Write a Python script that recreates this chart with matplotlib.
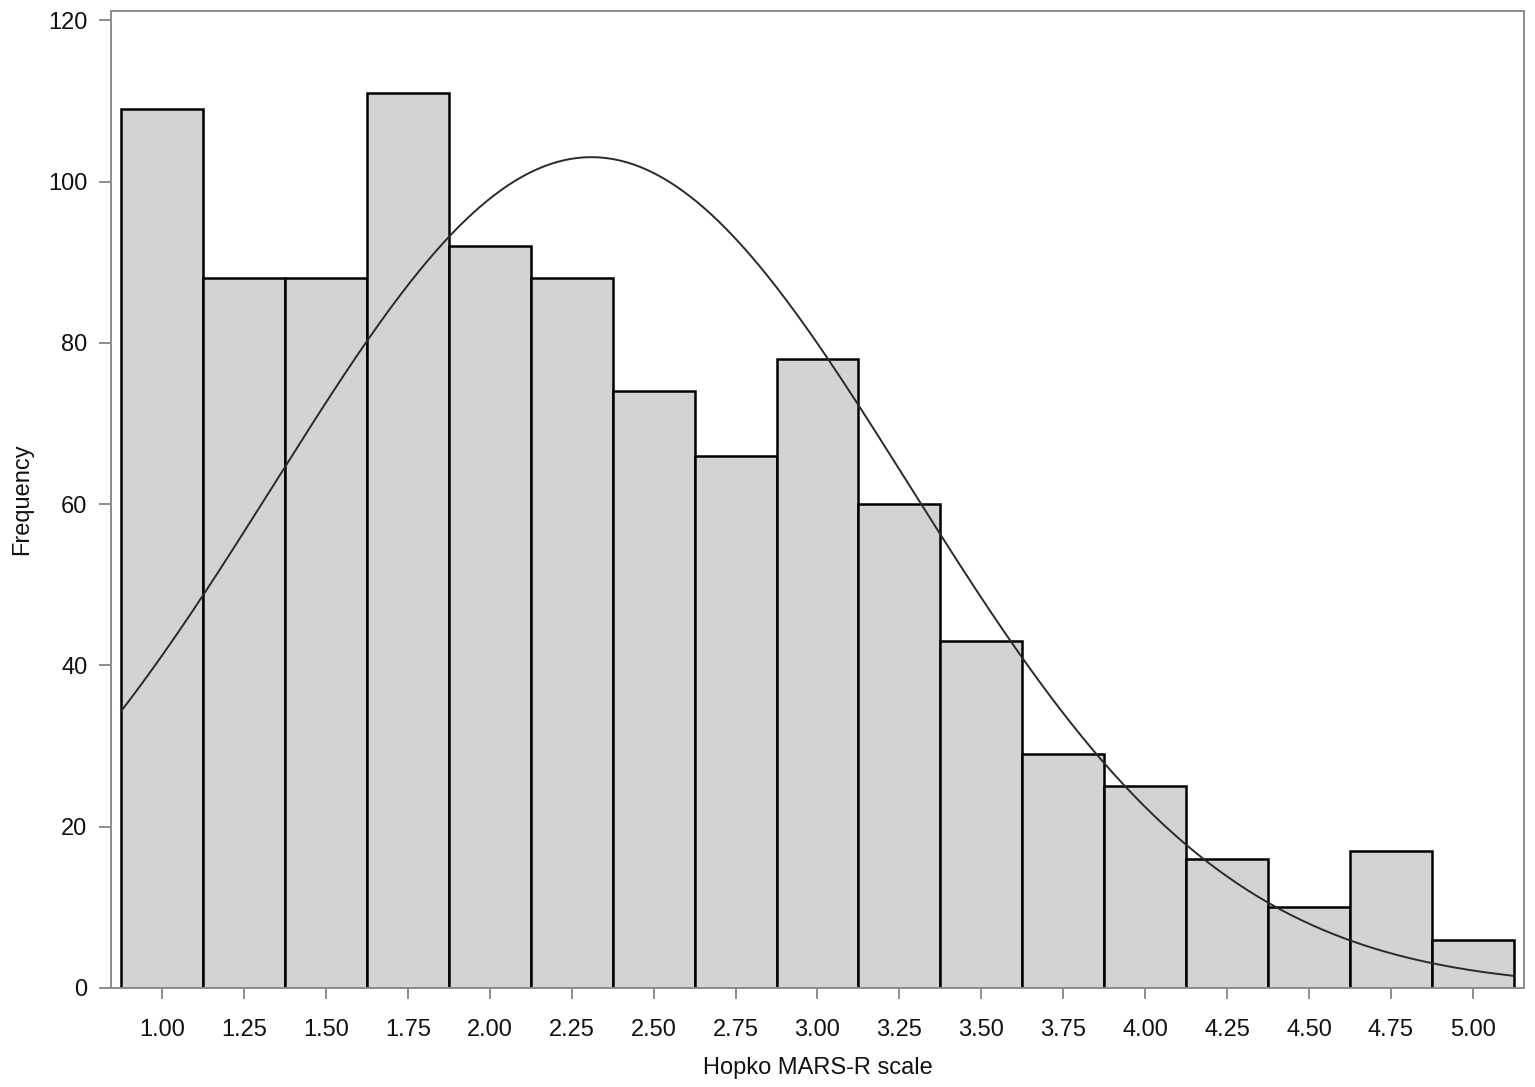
import numpy as np
import matplotlib
matplotlib.use("Agg")
import matplotlib.pyplot as plt

# histogram bins (centres) and counts
bin_centres = [1.00, 1.25, 1.50, 1.75, 2.00, 2.25, 2.50, 2.75, 3.00,
               3.25, 3.50, 3.75, 4.00, 4.25, 4.50, 4.75, 5.00]
counts = [109, 88, 88, 111, 92, 88, 74, 66, 78, 60, 43, 29, 25, 16, 10, 17, 6]
bin_width = 0.25

# fitted normal curve parameters
fit_mean = 2.31
fit_sd = 0.968

x_ticks = bin_centres
x_tick_labels = ["%.2f" % v for v in bin_centres]
y_ticks = [0, 20, 40, 60, 80, 100, 120]


def main():
    plt.rcParams["font.family"] = ["Liberation Sans", "DejaVu Sans"]
    fig = plt.figure(figsize=(15.35, 10.87), dpi=100)
    ax = fig.add_axes([0.0723, 0.0911, 0.9205, 0.8991])

    ax.bar(bin_centres, counts, width=bin_width, color="#d3d3d3",
           edgecolor="black", linewidth=1.8, zorder=2)

    n = sum(counts)
    xs = np.linspace(bin_centres[0] - bin_width / 2,
                     bin_centres[-1] + bin_width / 2, 400)
    ys = n * bin_width / (fit_sd * np.sqrt(2 * np.pi)) * \
        np.exp(-0.5 * ((xs - fit_mean) / fit_sd) ** 2)
    ax.plot(xs, ys, color="#2a2a2a", linewidth=1.4, zorder=3)

    ax.set_xlim(0.844, 5.156)
    ax.set_ylim(0, 121.2)
    ax.set_xticks(x_ticks)
    ax.set_xticklabels(x_tick_labels)
    ax.set_yticks(y_ticks)

    for sp in ax.spines.values():
        sp.set_color("#8c8c8c")
        sp.set_linewidth(1.4)
    ax.tick_params(axis="both", colors="#8c8c8c", labelcolor="#111111",
                   labelsize=17, width=1.4)
    ax.tick_params(axis="x", length=8, pad=14)
    ax.tick_params(axis="y", length=9, pad=8)

    ax.set_xlabel("Hopko MARS-R scale", fontsize=17, color="#111111")
    ax.set_ylabel("Frequency", fontsize=17, color="#111111")
    ax.xaxis.set_label_coords(0.5, -0.0815)
    ax.xaxis.label.set_verticalalignment("center")
    ax.yaxis.set_label_coords(-0.063, 0.5)
    ax.yaxis.label.set_verticalalignment("center")

    fig.savefig("out.png", dpi=100)
    plt.close(fig)


if __name__ == "__main__":
    main()
